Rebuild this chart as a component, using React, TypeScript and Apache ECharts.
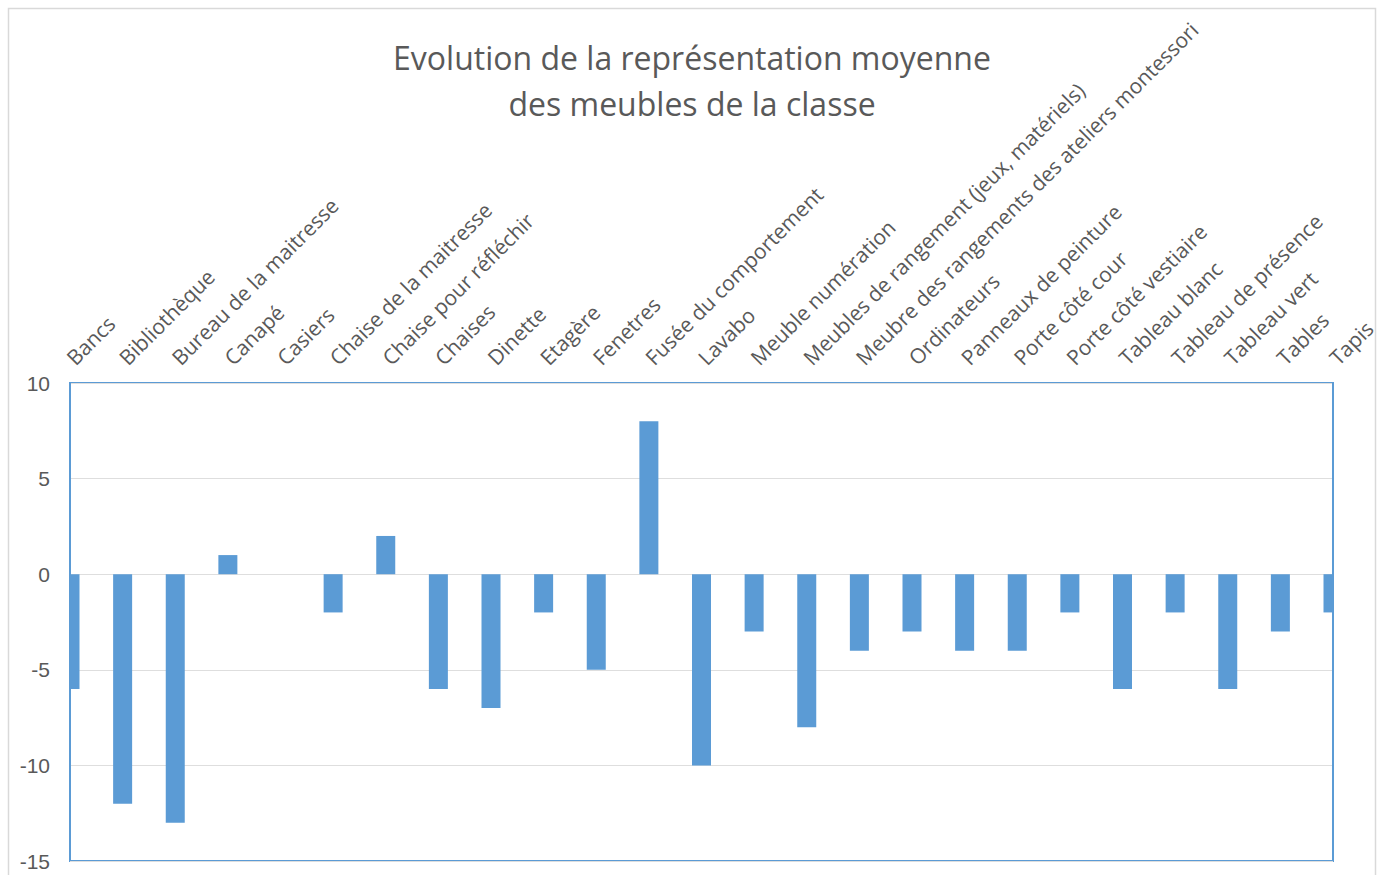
import React, { useEffect, useRef } from "react";
import * as echarts from "echarts";

const categories = [
  "Bancs", "Bibliothèque", "Bureau de la maitresse", "Canapé", "Casiers",
  "Chaise de la maitresse", "Chaise pour réfléchir", "Chaises", "Dinette", "Etagère",
  "Fenetres", "Fusée du comportement", "Lavabo", "Meuble numération",
  "Meubles de rangement (jeux, matériels)", "Meubre des rangements des ateliers montessori",
  "Ordinateurs", "Panneaux de peinture", "Porte côté cour", "Porte côté vestiaire",
  "Tableau blanc", "Tableau de présence", "Tableau vert", "Tables", "Tapis",
];
const values = [-6, -12, -13, 1, 0, -2, 2, -6, -7, -2, -5, 8, -10, -3, -8, -4, -3, -4, -4, -2, -6, -2, -6, -3, -2];
const titleText = "Evolution de la représentation moyenne\ndes meubles de la classe";

const GL = 70, GR = 1333, GT = 383, GB = 861;

export default function App() {
  const ref = useRef<HTMLDivElement>(null);
  useEffect(() => {
    const chart = echarts.init(ref.current!, null, { renderer: "svg" });
    chart.setOption({
      animation: false,
      backgroundColor: "#ffffff",
      textStyle: { fontFamily: "Open Sans" },
      title: {
        text: titleText,
        left: "center",
        top: 29,
        textStyle: { fontFamily: "Open Sans", fontSize: 32, fontWeight: "normal", color: "#595959", lineHeight: 46 },
      },
      graphic: [
        { type: "rect", z: 0, shape: { x: 8.5, y: 8.5, width: 1367, height: 880 }, style: { fill: "none", stroke: "#d9d9d9", lineWidth: 1.5 }, silent: true },
        { type: "rect", z: 10, shape: { x: GL - 20, y: GT - 2, width: 19, height: GB - GT + 4 }, style: { fill: "#ffffff" }, silent: true },
        { type: "rect", z: 10, shape: { x: GR + 1, y: GT - 2, width: 20, height: GB - GT + 4 }, style: { fill: "#ffffff" }, silent: true },
        { type: "line", z: 11, shape: { x1: GL, y1: GT, x2: GL, y2: GB }, style: { stroke: "#5b9bd5", lineWidth: 2 }, silent: true },
        { type: "line", z: 11, shape: { x1: GR, y1: GT, x2: GR, y2: GB }, style: { stroke: "#5b9bd5", lineWidth: 2 }, silent: true },
      ],
      grid: { left: GL, right: 1384 - GR, top: GT, bottom: 875 - GB, show: true, borderColor: "#5b9bd5", borderWidth: 2, backgroundColor: "transparent" },
      xAxis: {
        type: "category",
        position: "top",
        data: categories,
        boundaryGap: false,
        axisLine: { show: false },
        axisTick: { show: false },
        axisLabel: { rotate: 45, interval: 0, margin: 22, fontSize: 21, color: "#595959", fontFamily: "Open Sans" },
        splitLine: { show: false },
      },
      yAxis: {
        type: "value",
        min: -15,
        max: 10,
        interval: 5,
        axisLine: { show: false },
        axisTick: { show: false },
        axisLabel: { fontSize: 21, color: "#595959", margin: 20, fontFamily: "Liberation Sans" },
        splitLine: { lineStyle: { color: "#dedede", width: 1 } },
      },
      series: [
        {
          type: "bar",
          data: values,
          barWidth: 19,
          clip: true,
          itemStyle: { color: "#5b9bd5" },
        },
      ],
    });
    return () => chart.dispose();
  }, []);
  return <div ref={ref} style={{ position: "fixed", left: 0, top: 0, width: 1384, height: 875 }} />;
}
